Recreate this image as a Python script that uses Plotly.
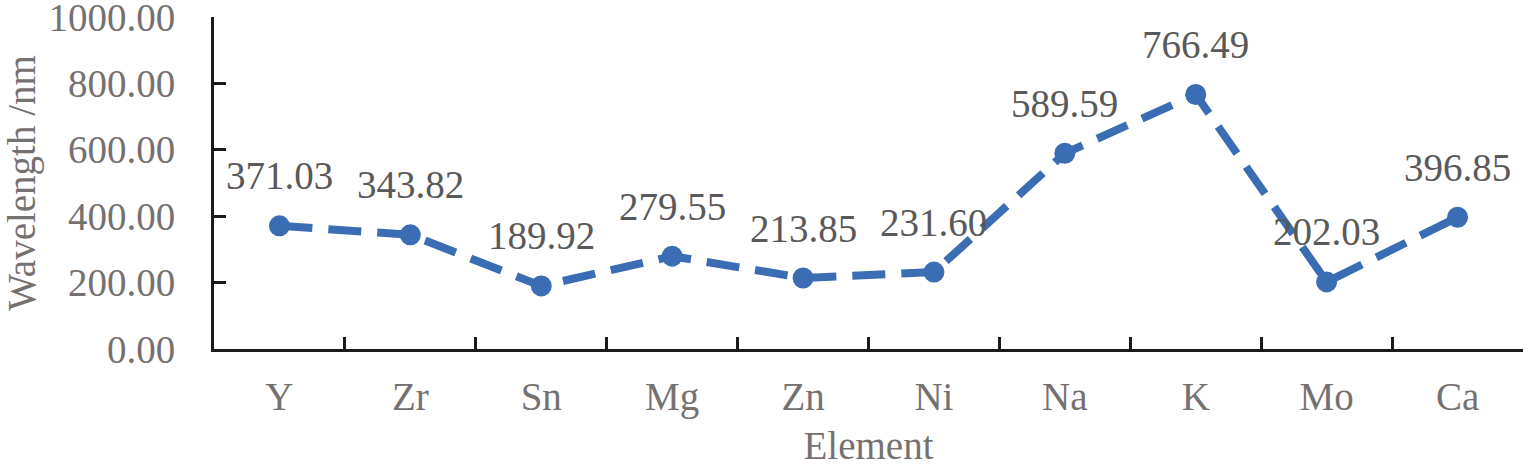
import plotly.graph_objects as go

# ── Data ──
elements = ["Y", "Zr", "Sn", "Mg", "Zn", "Ni", "Na", "K", "Mo", "Ca"]
wavelengths = [371.03, 343.82, 189.92, 279.55, 213.85, 231.60, 589.59, 766.49, 202.03, 396.85]
y_ticks = [0, 200, 400, 600, 800, 1000]

BLUE = "#3B6DB4"
GRAY = "#767171"
LABEL_GRAY = "#595959"
FONT = "Liberation Serif"

fig = go.Figure()
fig.add_trace(go.Scatter(
    x=elements, y=wavelengths,
    mode="lines+markers",
    line=dict(color=BLUE, width=8, dash="33px,16px"),
    marker=dict(color=BLUE, size=21),
    showlegend=False,
))

# data labels above each point
for el, v in zip(elements, wavelengths):
    fig.add_annotation(
        x=el, y=v, text=f"{v:.2f}",
        showarrow=False, yshift=50,
        font=dict(family=FONT, size=39, color=LABEL_GRAY),
    )

fig.update_layout(
    width=1529, height=467,
    margin=dict(l=214, r=6, t=17, b=118),
    plot_bgcolor="white",
    paper_bgcolor="white",
    font=dict(family=FONT, size=39, color=GRAY),
)

fig.update_xaxes(
    range=[-0.5, len(elements) - 0.5],
    showline=True, linecolor="#1a1a1a", linewidth=3,
    ticks="inside", tickson="boundaries", ticklen=12, tickwidth=3, tickcolor="#1a1a1a",
    showgrid=False, zeroline=False,
    tickfont=dict(family=FONT, size=39, color=GRAY),
    ticklabelstandoff=11,
    title=dict(text="Element", font=dict(family=FONT, size=39, color=GRAY), standoff=18),
    automargin=False,
)
fig.update_yaxes(
    range=[0, 1000], tickvals=y_ticks, tickformat=".2f",
    showline=True, linecolor="#1a1a1a", linewidth=3,
    ticks="inside", ticklen=12, tickwidth=3, tickcolor="#1a1a1a",
    showgrid=False, zeroline=False,
    tickfont=dict(family=FONT, size=39, color=GRAY),
    ticklabelstandoff=28, ticklabeloverflow="allow",
    title=dict(text="Wavelength /nm", font=dict(family=FONT, size=39, color=GRAY), standoff=10),
    automargin=False,
)

fig.write_html(
    "out.html",
    config={"displayModeBar": False},
    post_script="document.body.style.margin='0';",
)
